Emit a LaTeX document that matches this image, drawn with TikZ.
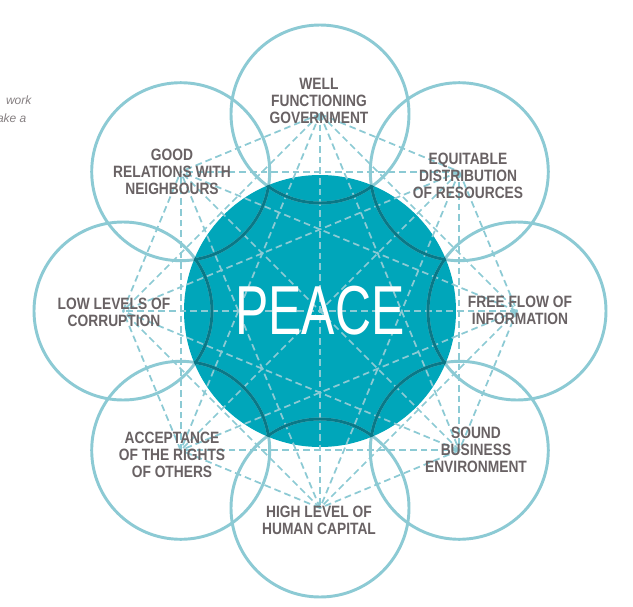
\documentclass[tikz,border=0pt]{standalone}
\usepackage{fontspec}
\usetikzlibrary{calc}
\setmainfont{Liberation Sans}
\newfontfamily\labfont[FakeStretch=0.84]{Liberation Sans Bold}
\newfontfamily\peacefont[FakeStretch=0.72]{Liberation Sans}
\definecolor{teal1}{RGB}{0,166,186}
\definecolor{ring}{RGB}{140,202,212}
\definecolor{ringdark}{RGB}{10,120,135}
\definecolor{txt}{RGB}{105,98,100}
\begin{document}
\begin{tikzpicture}[x=0.75pt,y=-0.75pt,
  lab/.style={font=\labfont\fontsize{12.3}{12.8}\selectfont,text=txt,align=center},
  ringc/.style={draw=ring,line width=2.2pt},
  dline/.style={draw=ring,line width=1.3pt,dash pattern=on 5pt off 3pt}]
\useasboundingbox (0,0) rectangle (633,607);
\fill[white] (0,0) rectangle (633,607);
\node[font=\itshape\fontsize{9}{10}\selectfont,text=txt!80,anchor=east,inner sep=1pt] (w1) at (33,100) {work};
\node[font=\itshape\fontsize{9}{10}\selectfont,text=txt!80,anchor=east,inner sep=1pt] (w2) at (28,118) {ake a};
\coordinate (O) at (320,311);
\foreach \i/\a in {1/90,2/45,3/0,4/-45,5/-90,6/-135,7/180,8/135}
  \coordinate (c\i) at ($(O)+({197*cos(\a)},{-197*sin(\a)})$);
\fill[teal1] (O) circle (136);
\foreach \i in {1,...,8}{\foreach \j in {1,...,8}{\ifnum\i<\j \draw[dline] (c\i) -- (c\j);\fi}}
\foreach \i in {1,...,8} \draw[ringc] (c\i) circle (89);
\begin{scope}
\clip (O) circle (136);
\foreach \i in {1,...,8} \draw[draw=ringdark,line width=2.2pt] (c\i) circle (89);
\end{scope}
\node[font=\peacefont\fontsize{52}{52}\selectfont,text=white] (p) at (O) {PEACE};
\node[lab] (l1) at (319,101) {WELL\\FUNCTIONING\\GOVERNMENT};
\node[lab] (l2) at (468,176) {EQUITABLE\\DISTRIBUTION\\OF RESOURCES};
\node[lab] (l3) at (520,310) {FREE FLOW OF\\INFORMATION};
\node[lab] (l4) at (476,450) {SOUND\\BUSINESS\\ENVIRONMENT};
\node[lab] (l5) at (319,520) {HIGH LEVEL OF\\HUMAN CAPITAL};
\node[lab] (l6) at (172,455) {ACCEPTANCE\\OF THE RIGHTS\\OF OTHERS};
\node[lab] (l7) at (114,312) {LOW LEVELS OF\\CORRUPTION};
\node[lab] (l8) at (172,172) {GOOD\\RELATIONS WITH\\NEIGHBOURS};
\end{tikzpicture}
\end{document}
